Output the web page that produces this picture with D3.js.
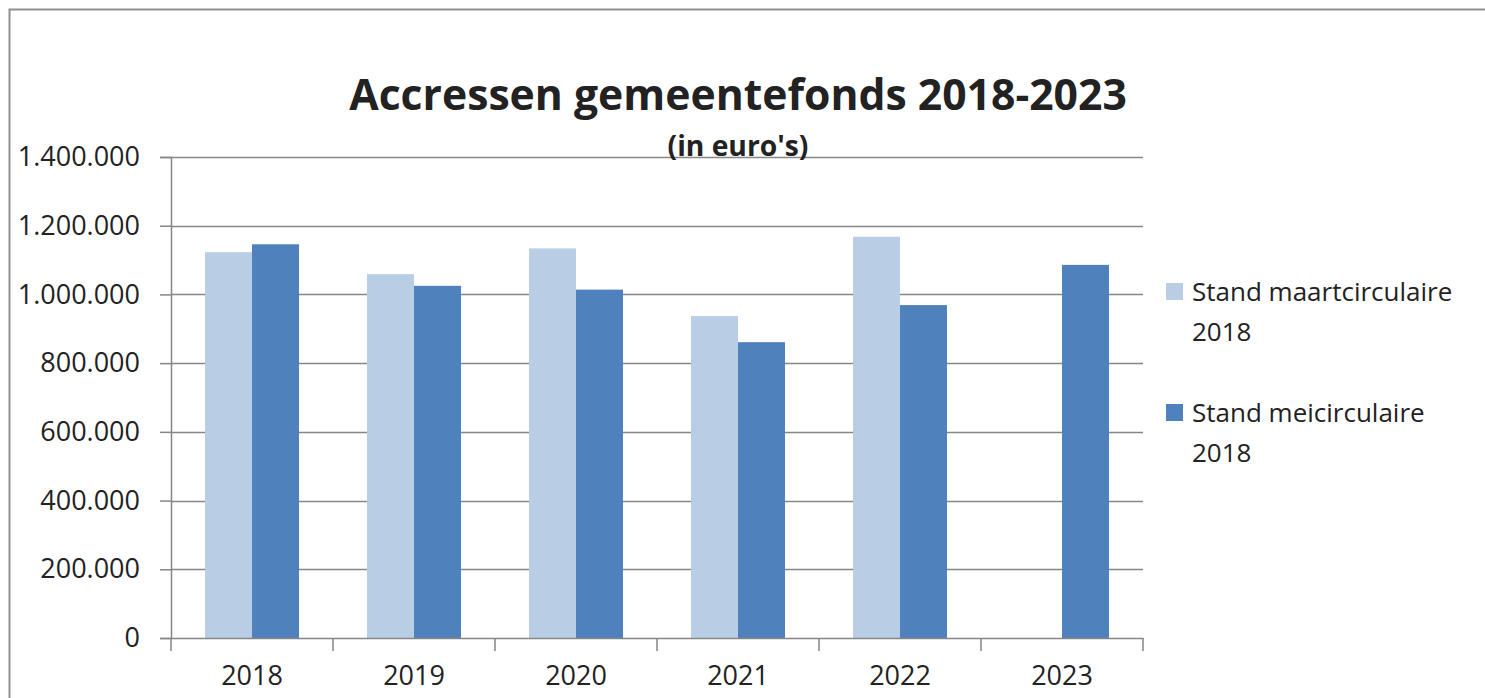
<!DOCTYPE html>
<html><head><meta charset="utf-8">
<script src="https://cdn.jsdelivr.net/npm/d3@7"></script>
<style>
html,body{margin:0;padding:0;background:#fff;}
svg{display:block;}
text{font-family:"Open Sans",sans-serif;fill:#222;}
</style></head>
<body>
<svg id="chart" width="1485" height="698"></svg>
<script>
const categories = ["2018","2019","2020","2021","2022","2023"];
const seriesNames = ["Stand maartcirculaire 2018","Stand meicirculaire 2018"];
const maart = [1123000, 1059000, 1134000, 937000, 1168000, null];
const mei = [1146000, 1025000, 1014000, 861000, 969000, 1086000];
const yTicks = [0, 200000, 400000, 600000, 800000, 1000000, 1200000, 1400000];
const colors = ["#b9cde5", "#4f81bd"];
const title = "Accressen gemeentefonds 2018-2023";
const subtitle = "(in euro's)";

const svg = d3.select("#chart");
const W = 1485, H = 698;
const m = {left:171, right:1143, top:157, bottom:638};

// chart border
svg.append("path").attr("d", `M9.5,${H} L9.5,9.5 L${W},9.5`)
  .attr("fill","none").attr("stroke","#8f8f8f").attr("stroke-width",2);

const nl = d3.formatLocale({decimal:",", thousands:".", grouping:[3], currency:["€",""]});
const fmt = nl.format(",d");

const x = d3.scaleBand().domain(categories).range([m.left, m.right]).paddingInner(0.42).paddingOuter(0.21);
const xOuter = d3.scaleBand().domain(categories).range([m.left, m.right]);
const x1 = d3.scaleBand().domain([0,1]).range([0, x.bandwidth()]);
const y = d3.scaleLinear().domain([0, 1400000]).range([m.bottom, m.top]);

// gridlines
svg.append("g").selectAll("line").data(yTicks.filter(d=>d>0)).join("line")
  .attr("x1", m.left).attr("x2", m.right)
  .attr("y1", d=>Math.round(y(d))+0.5).attr("y2", d=>Math.round(y(d))+0.5)
  .attr("stroke","#868686").attr("stroke-width",1.5);

// y axis
const yAxis = svg.append("g").attr("transform",`translate(${m.left},0)`)
  .call(d3.axisLeft(y).tickValues(yTicks).tickFormat(fmt).tickSize(11).tickPadding(20));
yAxis.select(".domain").attr("stroke","#868686").attr("stroke-width",1.5);
yAxis.selectAll(".tick line").attr("stroke","#868686").attr("stroke-width",1.5);
yAxis.selectAll(".tick text").attr("font-family","Open Sans").attr("font-size",27).attr("fill","#222");

// bars
const barData = [];
[maart, mei].forEach((vals, si) => {
  vals.forEach((v, i) => { if (v != null) barData.push({cat: categories[i], s: si, v}); });
});
svg.append("g").selectAll("rect").data(barData).join("rect")
  .attr("x", d => x(d.cat) + x1(d.s))
  .attr("width", x1.bandwidth())
  .attr("y", d => y(d.v))
  .attr("height", d => y(0) - y(d.v))
  .attr("fill", d => colors[d.s]);

// x axis
const xAxis = svg.append("g").attr("transform",`translate(0,${m.bottom})`)
  .call(d3.axisBottom(xOuter).tickSize(0).tickPadding(28));
xAxis.select(".domain").attr("stroke","#868686").attr("stroke-width",1.5);
xAxis.selectAll(".tick text").attr("font-family","Open Sans").attr("font-size",27).attr("fill","#222");
const bounds = categories.map(c=>xOuter(c)).concat([m.right]);
xAxis.append("g").selectAll("line").data(bounds).join("line")
  .attr("x1",d=>d).attr("x2",d=>d).attr("y1",0).attr("y2",13)
  .attr("stroke","#868686").attr("stroke-width",1.5);

// title
function fitText(sel, targetW){
  const n = sel.node(); const fs = +sel.attr("font-size");
  const w = n.getComputedTextLength();
  sel.attr("font-size", fs*targetW/w);
}
const t = svg.append("text").attr("x",738).attr("y",110).attr("text-anchor","middle")
  .attr("font-weight","bold").attr("font-size",40).attr("fill","#000").text(title);
fitText(t, 778);
const st = svg.append("text").attr("x",738).attr("y",156).attr("text-anchor","middle")
  .attr("font-weight","bold").attr("font-size",20).attr("fill","#000").text(subtitle);
fitText(st, 141);

// legend
const leg = svg.append("g");
const legItems = [
  {lines:["Stand maartcirculaire","2018"], y:283, c:colors[0]},
  {lines:["Stand meicirculaire","2018"], y:404, c:colors[1]}
];
legItems.forEach((it)=>{
  leg.append("rect").attr("x",1166).attr("y",it.y).attr("width",17).attr("height",17).attr("fill",it.c);
  it.lines.forEach((ln,j)=>{
    leg.append("text").attr("x",1192).attr("y",it.y+18+j*40).attr("font-size",26).attr("fill","#222").text(ln);
  });
});
</script>
</body></html>
